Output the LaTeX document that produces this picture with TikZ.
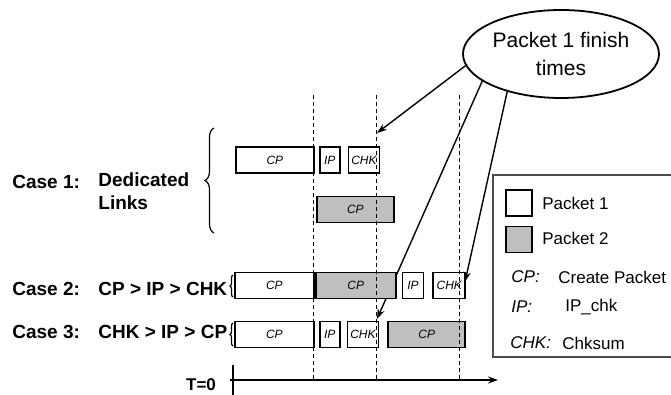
\documentclass[tikz,border=0pt]{standalone}
\usepackage{fontspec}
\setmainfont{Liberation Sans}
\usetikzlibrary{positioning, arrows.meta, shapes.geometric, decorations.pathreplacing}
\tikzset{
  > = {Stealth[length = 5pt, width = 3.5pt]},
  stage/.style = {draw, line width = 0.9pt, inner sep = 0pt, minimum height = 13pt,
    font = \fontsize{6}{6.5}\selectfont\itshape},
  first/.style = {stage, fill = white},
  second/.style = {stage, fill = gray!50},
  caselabel/.style = {anchor = west, inner sep = 0pt, align = left,
    font = \fontsize{9.5}{11.5}\selectfont\bfseries},
  keytext/.style = {anchor = west, inner sep = 0pt, font = \fontsize{8.5}{10}\selectfont},
  finish/.style = {->, line width = 0.7pt},
  bound/.style = {dash pattern = on 2pt off 1.5pt, line width = 0.5pt},
  grouping/.style = {decorate, line width = 0.6pt, decoration = {brace, amplitude = #1}}
}

\begin{document}
\begin{tikzpicture}[x = 0.5pt, y = -0.5pt]

\useasboundingbox [fill = white] (0,0) rectangle (671,395);

\node [draw, ellipse, line width = 0.9pt, inner sep = 0pt, minimum width = 98pt,
  minimum height = 44pt, align = center, font = \fontsize{10.5}{14}\selectfont]
  (fin) at (561,54) {Packet 1 finish\\times};

\coordinate (end1) at (377,133);
\coordinate (end2) at (377,319);
\coordinate (end3) at (465,282);
\draw [finish] (fin.187) -- (end1);
\draw [finish] (fin.199) -- (end2);
\draw [finish] (fin.215) -- (end3);

% case 1
\node [caselabel] (case1) at (12,182) {Case 1:};
\node [caselabel] (dedicated) at (98,191) {Dedicated\\Links};
\draw [grouping = 4.5pt] (214,233) -- (214,128);
\node [first, minimum width = 39pt, anchor = west] (cp11) at (235,160) {CP};
\node [first, minimum width = 10pt] (ip11) [right = 2pt of cp11] {IP};
\node [first, minimum width = 15.5pt] (chk11) [right = 3.5pt of ip11] {CHK};
\node [second, minimum width = 38.5pt, anchor = west] (cp12) at (316,209.5) {CP};

% case 2
\node [caselabel] (case2) at (12,289) {Case 2:};
\node [caselabel] (order2) at (98,289) {CP > IP > CHK};
\draw [grouping = 1.5pt] (233,297) -- (233,275);
\node [first, minimum width = 39.5pt, anchor = west] (cp21) at (234,285.5) {CP};
\node [second, minimum width = 40pt] (cp22) [right = 0pt of cp21] {CP};
\node [first, minimum width = 10.5pt] (ip21) [right = 2.5pt of cp22] {IP};
\node [first, minimum width = 16pt] (chk21) [right = 4pt of ip21] {CHK};

% case 3
\node [caselabel] (case3) at (12,332) {Case 3:};
\node [caselabel] (order3) at (98,332) {CHK > IP > CP};
\draw [grouping = 1.5pt] (233,346) -- (233,323);
\node [first, minimum width = 39.5pt, anchor = west] (cp31) at (234,334.5) {CP};
\node [first, minimum width = 10pt] (ip31) [right = 2pt of cp31] {IP};
\node [first, minimum width = 15.5pt] (chk31) [right = 3pt of ip31] {CHK};
\node [second, minimum width = 38.5pt] (cp32) [right = 4pt of chk31] {CP};

\foreach \x in {313, 376, 459}
  \draw [bound] (\x,95) -- (\x,380);

% time axis
\coordinate (t0) at (230,380);
\coordinate (tn) at (498,380);
\draw [->, line width = 0.75pt] (t0) -- (tn);
\draw [line width = 0.75pt] (233,365) -- (233,398);
\node [font = \fontsize{8.5}{10}\selectfont\bfseries] (tzero) at (201,385) {T=0};

% legend
\draw [line width = 1pt, gray!60!black] (493,175) rectangle (680,357);
\node [first, minimum width = 13pt] (key1) at (519,203) {};
\node [second, minimum width = 13pt] (key2) at (519,239.5) {};
\node [keytext] (pk1) at (542,203) {Packet 1};
\node [keytext] (pk2) at (542,238) {Packet 2};
\node [keytext, font = \fontsize{8.5}{10}\selectfont\itshape] (abcp) at (511,277) {CP:};
\node [keytext] (ltcp) at (558,277) {Create Packet};
\node [keytext, font = \fontsize{8.5}{10}\selectfont\itshape] (abip) at (511,307) {IP:};
\node [keytext] (ltip) at (565,307) {IP\_chk};
\node [keytext, font = \fontsize{8.5}{10}\selectfont\itshape] (abchk) at (510,343) {CHK:};
\node [keytext] (ltchk) at (562,343) {Chksum};

\end{tikzpicture}
\end{document}
